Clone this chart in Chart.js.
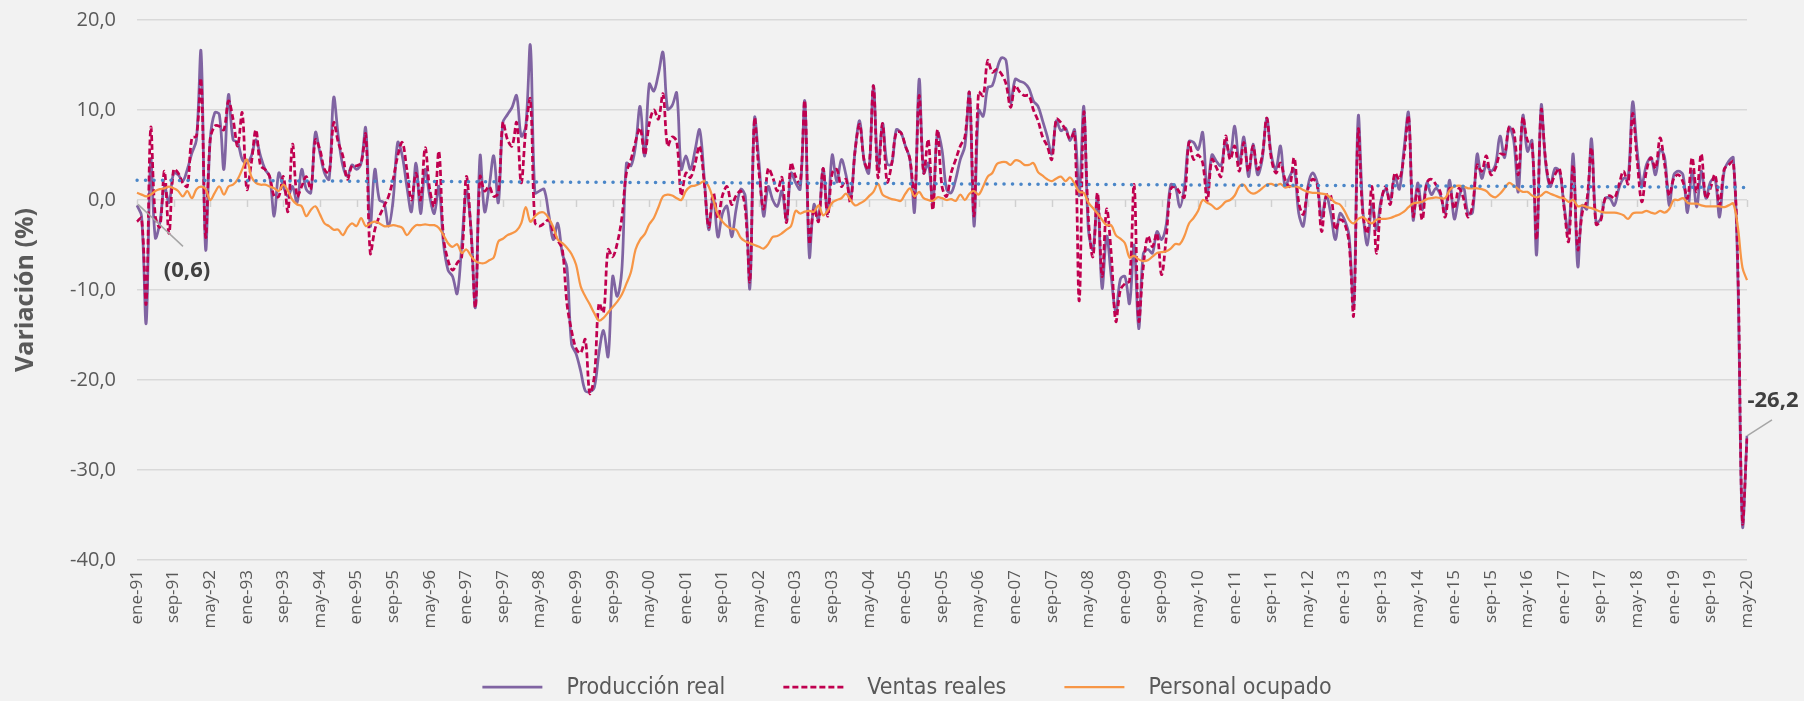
<!DOCTYPE html>
<html>
<head>
<meta charset="utf-8">
<script src="https://cdn.jsdelivr.net/npm/chart.js@4.4.1/dist/chart.umd.min.js"></script>
<style>
  html, body { margin: 0; padding: 0; background: #f2f2f2; }
  #wrap { position: relative; width: 1804px; height: 701px; }
</style>
</head>
<body>
<div id="wrap"><canvas id="c" width="1804" height="701"></canvas></div>
<script>
// ---------- DATA ----------
const MONTH_NAMES = ['ene','feb','mar','abr','may','jun','jul','ago','sep','oct','nov','dic'];
const START_YEAR = 1991;
const N_MONTHS = 353;            // ene-91 ... may-20
const TICK_EVERY = 8;            // label every 8 months

const CATEGORIES = [];
for (let k = 0; k < N_MONTHS; k++) {
  const m = k % 12, yr = (START_YEAR + Math.floor(k / 12)) % 100;
  CATEGORIES.push(MONTH_NAMES[m] + '-' + String(yr).padStart(2, '0'));
}

const SERIES_NAMES = ['Producción real', 'Ventas reales', 'Personal ocupado'];

const PRODUCCION = [
 -0.6,-1.8,-13.7,4.5,-4.2,-2.5,1.5,-0.3,3.0,2.8,2.1,3.4,5.2,6.7,16.5,-5.5,6.7,9.7,9.5,3.4,
 11.7,6.7,6.4,4.5,4.1,4.9,6.7,4.9,3.4,2.6,-1.8,3.0,1.5,0.4,1.5,-0.3,3.4,1.2,0.8,7.5,
 5.2,3.0,2.3,11.4,7.1,3.8,2.6,3.9,3.4,4.1,8.0,-2.9,3.4,0.0,-0.3,-2.9,0.0,6.4,4.9,1.5,
 -1.3,4.1,-1.5,3.4,0.4,-1.5,1.5,-4.8,-7.8,-8.5,
 -10.4,-5.0,1.0,-3.0,-11.9,4.9,-1.3,1.5,4.9,-0.3,8.6,9.5,10.3,11.6,7.1,8.2,17.2,0.8,1.0,1.2,
 -1.5,-4.4,-2.6,-6.0,-7.5,-16.0,-17.1,-19.0,-21.2,-21.3,-20.8,-17.0,-14.5,-17.4,-8.5,-10.7,-7.8,4.1,3.8,6.0,
 10.4,4.9,12.9,12.1,14.0,16.4,10.1,10.5,11.9,3.4,4.9,3.4,5.5,7.8,2.6,-3.3,0.4,-4.1,-1.5,-0.7,
 -4.1,-1.0,1.2,0.4,-9.8,9.1,4.1,-1.8,1.5,0.0,-0.7,
 1.0,-2.2,3.0,1.9,1.2,11.0,-6.3,-0.5,-2.2,3.5,-1.5,5.0,2.0,4.5,2.8,0.2,5.5,8.8,4.3,3.0,
 12.7,3.5,8.5,4.0,4.0,7.8,7.5,6.0,4.5,-1.3,13.4,3.0,4.1,-0.3,7.5,5.6,1.2,0.8,2.3,4.5,
 6.0,11.9,-2.9,10.0,9.3,12.5,12.7,14.5,15.8,15.5,10.8,13.4,13.2,13.0,12.4,11.0,10.4,8.8,7.1,5.1,
 8.8,7.7,8.0,6.6,7.8,0.5,10.4,-3.3,-5.5,0.4,-9.8,
 -4.0,-8.5,-12.5,-8.8,-8.5,-11.5,-5.0,-14.3,-6.0,-5.5,-5.9,-3.5,-4.4,-2.8,1.7,1.5,-0.8,1.5,6.5,6.4,
 5.6,7.5,0.8,5.0,4.3,3.8,6.4,4.9,8.2,4.0,7.0,2.6,6.2,2.8,4.5,9.1,5.0,3.4,6.0,1.5,
 2.6,3.4,-1.5,-2.9,1.5,3.0,2.0,-2.0,0.5,-1.5,-4.4,-1.5,-2.2,-4.0,-11.9,9.3,-1.0,-5.0,-0.5,-3.3,
 0.0,1.2,0.0,2.6,1.2,5.6,9.7,-2.2,1.9,-1.1,1.9,
 0.6,1.3,0.5,-1.4,2.2,-2.1,0.2,1.5,-1.5,-1.4,5.1,2.4,3.9,3.2,3.9,7.1,4.7,8.1,6.6,0.9,
 9.4,5.4,6.6,-6.1,10.5,4.0,1.5,3.5,3.2,-0.6,-3.6,5.1,-7.4,-0.6,-1.0,6.8,-2.5,-2.1,0.2,0.2,
 -0.6,1.3,2.4,2.4,10.9,5.4,1.7,3.9,4.7,2.8,5.6,4.7,-0.6,2.8,3.2,2.8,-1.4,3.2,-0.8,3.2,
 0.2,2.0,2.4,-1.9,3.2,4.3,4.7,-8.7,-36.2,-26.2
];

const VENTAS = [
 -2.4,-2.0,-11.5,8.0,-1.8,-3.0,3.2,-3.7,3.4,3.0,1.9,1.5,6.9,7.1,13.4,-4.1,6.7,8.2,8.2,7.8,
 11.0,9.0,6.0,9.7,1.2,4.1,7.8,3.8,3.4,2.6,0.4,0.4,2.6,-1.3,6.2,0.4,1.5,2.6,1.2,6.7,
 5.6,3.4,3.0,8.6,6.4,4.9,2.3,3.8,3.8,4.1,7.3,-5.9,-3.3,-1.8,-0.7,0.4,2.3,4.9,6.4,3.4,
 0.0,3.0,0.0,5.8,1.2,-0.7,5.4,-4.1,-6.7,-7.8,
 -7.0,-6.3,2.6,-3.3,-11.9,2.6,1.0,1.5,0.4,0.8,8.6,6.7,6.0,8.6,1.9,7.8,11.2,-2.5,-2.9,-2.6,
 -2.2,-3.5,-4.5,-5.5,-11.5,-14.5,-16.5,-17.0,-15.5,-21.5,-19.5,-11.5,-12.5,-5.5,-6.3,-4.8,-2.0,3.0,4.5,6.5,
 8.0,5.0,8.5,10.0,9.0,11.8,6.0,7.0,6.5,0.5,3.0,2.5,4.0,6.0,2.0,-3.0,0.8,-2.0,0.5,1.5,
 -0.5,0.5,1.0,-1.0,-9.0,9.0,3.0,-1.0,3.5,2.5,1.0,
 2.5,-2.5,4.1,2.6,1.8,11.0,-4.8,-1.0,-2.4,3.5,-1.8,3.0,3.4,1.5,2.3,-0.3,5.5,8.4,4.3,3.4,
 12.7,2.5,8.5,2.0,4.0,7.5,7.5,6.0,4.5,0.2,11.6,3.0,6.7,-1.1,7.8,1.5,0.4,3.0,4.5,6.0,
 7.0,11.9,-1.8,12.0,11.6,15.5,14.2,14.5,14.0,12.9,10.3,12.7,12.0,11.6,11.6,10.0,8.8,7.0,6.0,4.5,
 9.0,8.6,7.8,6.8,7.5,-11.2,9.7,-2.0,-6.3,0.8,-8.5,
 -1.0,-6.0,-13.5,-10.0,-9.3,-9.0,1.7,-13.4,-7.5,-4.0,-5.2,-3.7,-8.3,-4.3,1.2,1.5,0.8,0.3,6.4,4.5,
 5.0,4.1,-0.1,4.5,3.6,2.6,7.1,4.5,6.0,3.2,6.4,3.2,6.0,3.4,4.9,9.1,4.6,3.0,4.1,2.3,
 1.5,4.7,-0.3,-1.6,1.2,2.3,1.8,-3.5,0.5,0.5,-3.3,-2.2,-2.6,-4.8,-12.8,7.8,-1.5,-3.7,1.5,-5.9,
 -0.3,1.5,-0.5,3.0,2.3,4.9,9.3,-1.8,1.2,-2.2,1.9,
 2.3,1.7,0.8,-1.9,1.3,-1.0,1.3,0.2,-1.9,-0.6,3.9,3.2,4.9,2.8,3.5,5.1,5.1,8.1,7.7,2.8,
 9.2,6.6,6.2,-4.4,10.0,4.3,1.7,2.8,3.5,-0.8,-4.6,3.9,-5.5,-1.4,0.0,5.8,-2.7,-2.3,0.2,0.5,
 0.2,1.7,3.2,1.8,9.6,4.3,-0.2,3.2,4.7,3.5,6.9,3.9,0.5,2.4,2.8,2.0,0.2,4.7,0.9,5.1,
 0.2,1.3,2.8,-0.6,3.4,3.9,4.3,-7.5,-35.8,-26.5
];

const PERSONAL = [
 0.8,0.6,0.4,0.6,1.0,1.2,1.3,1.5,1.3,1.0,0.4,1.0,0.2,1.2,1.5,1.2,0.0,0.8,1.5,0.6,
 1.5,1.7,2.3,3.4,4.5,2.6,1.9,1.7,1.7,1.5,1.3,1.0,1.7,1.0,0.0,-0.5,-0.7,-1.8,-1.1,-0.7,
 -1.6,-2.6,-2.9,-3.3,-3.3,-3.9,-3.1,-2.6,-2.9,-2.0,-2.9,-2.6,-2.4,-2.6,-2.9,-2.9,-2.8,-2.9,-3.1,-3.9,
 -3.3,-2.8,-2.8,-2.7,-2.8,-2.8,-3.1,-3.9,-4.8,-5.2,
 -4.9,-5.9,-5.5,-6.2,-6.8,-7.0,-7.0,-6.7,-6.4,-4.6,-4.3,-3.9,-3.7,-3.4,-2.6,-0.8,-2.4,-1.8,-1.4,-1.4,
 -2.0,-3.0,-4.4,-4.8,-5.3,-6.0,-7.2,-9.6,-10.7,-11.6,-12.6,-13.4,-13.1,-12.5,-11.9,-11.3,-10.5,-9.3,-8.0,-5.5,
 -4.4,-3.8,-2.7,-2.0,-0.8,0.4,0.6,0.5,0.2,0.0,1.0,1.5,1.6,1.8,2.1,1.5,0.0,-1.6,-2.4,-2.9,
 -3.2,-3.3,-4.2,-4.6,-4.8,-5.0,-5.2,-5.4,-4.9,-4.1,-4.0,
 -3.7,-3.3,-2.9,-1.2,-1.5,-1.3,-1.2,-1.3,-0.6,-1.7,-1.2,-0.3,0.0,0.2,0.7,0.0,-0.6,-0.4,-0.1,0.4,
 0.9,1.8,0.6,0.3,0.1,0.0,-0.1,0.7,1.3,0.4,0.9,0.2,0.0,-0.1,0.3,0.2,0.0,0.1,-0.1,0.6,
 0.0,0.7,1.0,0.6,1.5,2.6,3.0,4.0,4.2,4.2,3.9,4.4,4.3,3.9,3.9,4.1,3.1,2.7,2.3,2.1,
 2.4,2.6,2.1,2.5,1.8,0.9,0.8,-0.3,-0.9,-1.5,-2.2,
 -2.8,-2.8,-3.9,-4.3,-4.8,-6.4,-6.2,-6.6,-6.8,-6.7,-6.3,-5.9,-5.8,-5.7,-5.4,-4.9,-4.9,-4.0,-2.6,-2.0,
 -1.2,0.0,-0.3,-0.6,-1.0,-0.7,-0.2,0.0,0.5,1.5,1.7,1.0,0.7,0.9,1.3,1.7,1.8,1.6,1.8,1.4,
 1.5,1.5,1.4,1.1,0.9,0.8,0.8,0.7,0.6,0.2,-0.3,-0.5,-1.2,-2.2,-2.6,-2.1,-1.9,-2.3,-2.6,-2.2,
 -2.1,-2.1,-2.0,-1.8,-1.6,-1.3,-0.8,-0.4,-0.3,-0.2,0.1,
 0.2,0.3,0.2,0.2,1.1,1.5,1.6,1.5,1.3,1.3,1.3,1.2,1.0,0.5,0.3,0.7,1.3,1.9,1.6,1.2,
 0.9,0.9,0.5,0.3,0.5,0.9,0.7,0.5,0.3,0.2,-0.2,0.0,-0.7,-0.6,-0.8,-0.9,-1.1,-1.3,-1.4,-1.4,
 -1.4,-1.5,-1.7,-2.1,-1.5,-1.4,-1.4,-1.2,-1.4,-1.5,-1.2,-1.4,-1.0,0.0,0.0,0.2,-0.3,-0.4,-0.4,-0.6,
 -0.7,-0.7,-0.7,-0.7,-0.8,-0.6,-0.4,-3.0,-7.5,-8.9
];

// Linear trend line (dotted), read at both ends of the chart
const TREND_START = 2.2;
const TREND_END = 1.4;

const Y_MIN = -40, Y_MAX = 20, Y_STEP = 10;

// ---------- helpers ----------
const fmt = v => v.toFixed(1).replace('.', ',');
const trendData = CATEGORIES.map((_, i) => i === 0 ? TREND_START : (i === CATEGORIES.length - 1 ? TREND_END : null));

const FONT = "'Open Sans', 'Noto Sans', sans-serif";
const LEGEND_FONT = "'Liberation Sans Narrow', 'DejaVu Sans Condensed', 'Open Sans', sans-serif";
const LEGEND_SIZE = 23;
Chart.defaults.font.family = FONT;
Chart.defaults.color = '#595959';

const extrasPlugin = {
  id: 'extras',
  beforeDatasetsDraw(chart) {
    const {ctx, scales: {x, y}} = chart;
    const y0 = y.getPixelForValue(0);
    ctx.save();
    ctx.strokeStyle = '#d0d0d0';
    ctx.lineWidth = 1.5;
    for (let i = 0; i < CATEGORIES.length; i += TICK_EVERY) {
      const px = Math.round(x.getPixelForValue(i)) + 0.5;
      ctx.beginPath();
      ctx.moveTo(px, y0);
      ctx.lineTo(px, y0 + 7);
      ctx.stroke();
    }
    ctx.restore();
  },
  afterDatasetsDraw(chart) {
    const {ctx, scales: {x, y}} = chart;
    ctx.save();
    const p0x = x.getPixelForValue(0), p0y = y.getPixelForValue(PRODUCCION[0]);
    ctx.strokeStyle = '#a6a6a6';
    ctx.lineWidth = 1.5;
    ctx.beginPath(); ctx.moveTo(p0x + 1, p0y - 1); ctx.lineTo(p0x + 46, p0y + 41); ctx.stroke();
    const last = PRODUCCION.length - 1;
    const pLx = x.getPixelForValue(last), pLy = y.getPixelForValue(PRODUCCION[last]);
    ctx.beginPath(); ctx.moveTo(pLx, pLy); ctx.lineTo(pLx + 25, pLy - 16); ctx.stroke();
    ctx.fillStyle = '#404040';
    ctx.font = "bold 22px " + FONT;
    ctx.textAlign = 'center';
    ctx.textBaseline = 'middle';
    ctx.fillText('(' + fmt(Math.abs(PRODUCCION[0])) + ')', p0x + 50, p0y + 65);
    ctx.fillText(fmt(PRODUCCION[last]), pLx + 26, pLy - 35);
    ctx.restore();
  },
  afterDraw(chart) {
    // legend (line sample + series name) centred under the chart
    const ctx = chart.ctx;
    const LINE = 60, GAP = 24, ITEM_GAP = 58, CY = 687, CX = chart.width / 2 + 5;
    ctx.save();
    ctx.font = LEGEND_SIZE + 'px ' + LEGEND_FONT;
    const items = chart.data.datasets.filter(ds => SERIES_NAMES.includes(ds.label))
      .map(ds => ({ ds, w: ctx.measureText(ds.label).width }));
    const total = items.reduce((s, it) => s + LINE + GAP + it.w, 0) + ITEM_GAP * (items.length - 1);
    let xx = CX - total / 2;
    items.forEach(it => {
      ctx.strokeStyle = it.ds.borderColor;
      ctx.lineWidth = it.ds.borderWidth;
      ctx.setLineDash(it.ds.borderDash || []);
      ctx.beginPath(); ctx.moveTo(xx, CY); ctx.lineTo(xx + LINE, CY); ctx.stroke();
      ctx.setLineDash([]);
      ctx.fillStyle = '#595959';
      ctx.textAlign = 'left';
      ctx.textBaseline = 'middle';
      ctx.fillText(it.ds.label, xx + LINE + GAP, CY + 1);
      xx += LINE + GAP + it.w + ITEM_GAP;
    });
    ctx.restore();
  }
};

new Chart(document.getElementById('c'), {
  type: 'line',
  data: {
    labels: CATEGORIES,
    datasets: [
      { label: SERIES_NAMES[0], data: PRODUCCION, borderColor: '#8064a2', backgroundColor: 'rgba(0,0,0,0)',
        borderWidth: 2.75, pointRadius: 0, tension: 0.35, order: 4 },
      { label: SERIES_NAMES[1], data: VENTAS, borderColor: '#c0004f', backgroundColor: 'rgba(0,0,0,0)',
        borderWidth: 2.75, borderDash: [6, 3], pointRadius: 0, tension: 0.35, order: 3 },
      { label: SERIES_NAMES[2], data: PERSONAL, borderColor: '#f79646', backgroundColor: 'rgba(0,0,0,0)',
        borderWidth: 2.25, pointRadius: 0, tension: 0.35, order: 2 },
      { label: 'Tendencia', data: trendData, borderColor: '#4a86c8', backgroundColor: 'rgba(0,0,0,0)',
        borderWidth: 3.5, borderDash: [0.1, 8.4], borderCapStyle: 'round', pointRadius: 0,
        spanGaps: true, order: 1 }
    ]
  },
  options: {
    responsive: false,
    animation: false,
    devicePixelRatio: 1,
    layout: { padding: { top: 20, right: 0, bottom: 0, left: 0 } },
    plugins: {
      tooltip: { enabled: false },
      legend: { display: false }
    },
    scales: {
      x: {
        grid: { display: false, drawTicks: false },
        border: { display: false },
        ticks: {
          autoSkip: false, minRotation: 90, maxRotation: 90, padding: 10,
          font: { size: 17 }, color: '#595959',
          callback: (v, i) => (i % TICK_EVERY === 0 ? CATEGORIES[i] : null)
        },
        afterFit: s => { s.height = 141; s.paddingRight = 57; }
      },
      y: {
        min: Y_MIN, max: Y_MAX,
        grid: { color: '#d9d9d9', lineWidth: 1.5, drawTicks: false },
        border: { display: false },
        ticks: { stepSize: Y_STEP, padding: 21, font: { size: 20 }, color: '#595959', callback: v => fmt(v) },
        title: { display: true, text: 'Variación (%)', color: '#595959', font: { size: 25, weight: 'bold' }, padding: { top: 11, bottom: 0 } },
        afterFit: s => { s.width = 137; s.paddingTop = 0; s.paddingBottom = 0; }
      }
    }
  },
  plugins: [extrasPlugin]
});
</script>
</body>
</html>
